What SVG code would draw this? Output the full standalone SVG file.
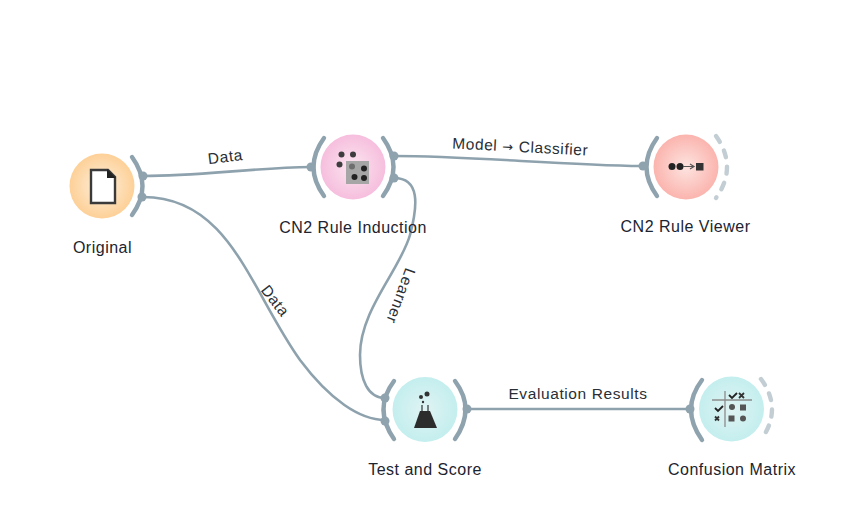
<svg xmlns="http://www.w3.org/2000/svg" width="865" height="532" viewBox="0 0 865 532">
<defs>
<radialGradient id="gO"><stop offset="0" stop-color="#fdf0dd"/><stop offset="1" stop-color="#fdd097"/></radialGradient>
<radialGradient id="gP"><stop offset="0" stop-color="#fbe6f0"/><stop offset="1" stop-color="#f6bedd"/></radialGradient>
<radialGradient id="gR"><stop offset="0" stop-color="#fde4e0"/><stop offset="1" stop-color="#fbb4ae"/></radialGradient>
<radialGradient id="gT"><stop offset="0" stop-color="#e0f3f3"/><stop offset="1" stop-color="#c4eeee"/></radialGradient>
</defs>
<style>
text{font-family:"Liberation Sans",Arial,sans-serif;font-size:16px;letter-spacing:.5px;fill:#1c2430}
.c{text-anchor:middle}
.l{font-size:15.5px;letter-spacing:.6px;text-anchor:middle;fill:#2a2f36}
.e{fill:none;stroke:#8ea2ae;stroke-width:2.6;stroke-linecap:round}
.a{fill:none;stroke:#8fa3af;stroke-width:4.4;stroke-linecap:round}
.d{fill:none;stroke:#c3ced4;stroke-width:4.4;stroke-linecap:round;stroke-dasharray:7 9.5}
.p{fill:#8fa3af}
.i{fill:#3d3d3d}
</style>
<g id="connectors">
<path class="e" d="M143 176C200 176 250 168 311 167"/>
<path class="e" d="M143 197C230 197 250 290 300 360C330 400 360 420 385 420"/>
<path class="e" d="M394 156C470 156 560 165 642 166"/>
<path class="e" d="M394 178C420 178 418 205 410 235C400 270 360 310 360 355C360 380 368 398 385 398"/>
<path class="e" d="M467 409H690"/>
<text class="l" transform="translate(226 162) rotate(-7)">Data</text>
<text class="l" transform="translate(520 152) rotate(3)">Model <tspan font-family="DejaVu Sans" font-size="13">→</tspan> Classifier</text>
<text class="l" transform="translate(271 304) rotate(52)">Data</text>
<text class="l" transform="translate(396 294) rotate(110)">Learner</text>
<text class="l" x="578" y="399">Evaluation Results</text>
</g>
<g id="original">
<circle cx="102" cy="186" r="32.500" fill="url(#gO)"/>
<path class="a" d="M132 157Q153 186 132 215"/>
<circle class="p" cx="143" cy="176" r="4.500"/><circle class="p" cx="142" cy="197" r="4.500"/>
<path d="M91 170H108L115 177V203H91Z" fill="#fff" stroke="#3a3a3a" stroke-width="2.400"/>
<path d="M107 169L116 178H107Z" fill="#222"/>
<text class="c" x="102.500" y="253">Original</text>
</g>
<g id="cn2-induction">
<circle cx="353" cy="167" r="32.500" fill="url(#gP)"/>
<path class="a" d="M324 138Q303 167 324 196"/>
<path class="a" d="M383 138Q404 167 383 196"/>
<circle class="p" cx="311" cy="167" r="4.500"/><circle class="p" cx="394" cy="156" r="4.500"/><circle class="p" cx="394" cy="178" r="4.500"/>
<rect x="346" y="161" width="23" height="23" fill="#a6a6a6"/>
<g class="i"><circle cx="341.500" cy="154.500" r="3"/><circle cx="353" cy="154.500" r="3"/><circle cx="339.500" cy="164.500" r="3"/></g>
<circle cx="352" cy="166.500" r="3" fill="#6e6e6e"/>
<g fill="#222"><circle cx="364" cy="168.500" r="3"/><circle cx="354.500" cy="177" r="3"/><circle cx="364" cy="178" r="3"/></g>
<text class="c" x="353" y="233">CN2 Rule Induction</text>
</g>
<g id="cn2-viewer">
<circle cx="686" cy="167" r="32.500" fill="url(#gR)"/>
<path class="a" d="M657 138Q636 167 657 196"/>
<path class="d" d="M716 136Q738 167 716 198"/>
<circle class="p" cx="643" cy="166" r="4.500"/>
<circle cx="672" cy="166.500" r="3.500" fill="#222"/><circle cx="680" cy="166.500" r="3.500" fill="#222"/>
<path d="M683 166.500H693M690 164L694 166.500L690 169" fill="none" stroke="#555" stroke-width="1.200"/>
<rect x="696" y="163" width="7.500" height="7.500" fill="#333"/>
<text class="c" x="685.500" y="232">CN2 Rule Viewer</text>
</g>
<g id="test-score">
<circle cx="425" cy="409.500" r="32.500" fill="url(#gT)"/>
<path class="a" d="M394 381Q373 409 394 439"/>
<path class="a" d="M455 381Q476 409 455 439"/>
<circle class="p" cx="385" cy="398" r="4.500"/><circle class="p" cx="385" cy="421" r="4.500"/><circle class="p" cx="467" cy="409" r="4.500"/>
<path d="M422 405V412M428 405V412" fill="none" stroke="#333" stroke-width="1.200"/>
<path d="M420 411H430L437 428H414Z" fill="#2c2c2c"/>
<circle cx="427" cy="394" r="2.500" fill="#333"/><circle cx="421" cy="397" r="2" fill="#333"/><circle cx="423" cy="402" r="1.200" fill="#333"/>
<text class="c" x="425" y="475">Test and Score</text>
</g>
<g id="confusion-matrix">
<circle cx="731.500" cy="409" r="32.500" fill="url(#gT)"/>
<path class="a" d="M702 380Q680 409 702 440"/>
<path class="d" d="M761 379Q783 409 761 440"/>
<circle class="p" cx="690" cy="409" r="4.500"/>
<path d="M712 400H752M725 391V427" stroke="#8c8c8c" stroke-width="1.300"/>
<path d="M729 395L732 398L737 393M715 408L718 411L723 406" fill="none" stroke="#222" stroke-width="1.800"/>
<path d="M739 393L744 398M744 393L739 398M715 416.500L719 420.500M719 416.500L715 420.500" stroke="#333" stroke-width="1.800"/>
<circle cx="732" cy="407" r="3" fill="#555"/><rect x="740" y="404.500" width="6" height="6" fill="#555"/>
<rect x="728.500" y="415.500" width="6" height="6" fill="#555"/><circle cx="743" cy="418.500" r="3" fill="#555"/>
<text class="c" x="732" y="475">Confusion Matrix</text>
</g>
</svg>
